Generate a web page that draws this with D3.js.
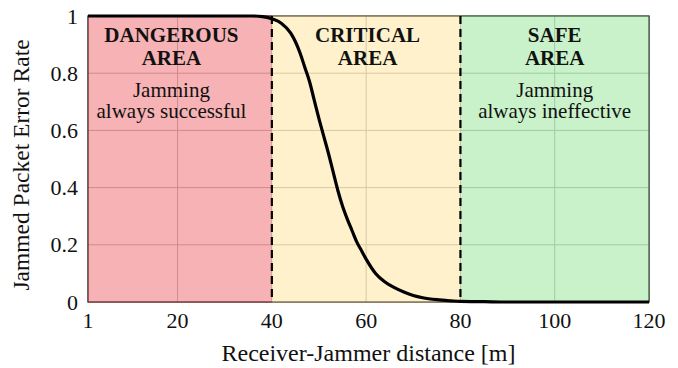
<!DOCTYPE html>
<html><head><meta charset="utf-8">
<script src="https://cdn.jsdelivr.net/npm/d3@7"></script>
<style>
html,body{margin:0;padding:0;background:#fff;}
svg{display:block;}
</style></head>
<body>
<svg id="c" width="678" height="368"></svg>
<script>
// ---- data ----
const distance = [1, 10, 20, 30, 36, 38, 40, 42, 44, 45, 46, 47, 48, 49, 50, 51, 52, 53, 54, 55, 56, 57, 58, 59, 60, 62, 64, 66, 68, 70, 72, 75, 78, 80, 85, 90, 100, 110, 120];
const per      = [1, 1, 1, 1, 1, 0.998, 0.99, 0.975, 0.94, 0.91, 0.87, 0.82, 0.77, 0.705, 0.64, 0.58, 0.52, 0.455, 0.39, 0.335, 0.29, 0.25, 0.21, 0.18, 0.15, 0.10, 0.07, 0.05, 0.035, 0.023, 0.015, 0.008, 0.004, 0.002, 0.001, 0, 0, 0, 0];
const xTicks = [1, 20, 40, 60, 80, 100, 120];
const yTicks = [0, 0.2, 0.4, 0.6, 0.8, 1];
const regionBounds = [[1, 40], [40, 80], [80, 120]];
const regionTitles = [["DANGEROUS", "AREA"], ["CRITICAL", "AREA"], ["SAFE", "AREA"]];
const regionNotes = [["Jamming", "always successful"], [], ["Jamming", "always ineffective"]];
const regionTextX = [18.7, 60.3, 100];
const regionColors = ["rgb(232,62,67)", "rgb(255,220,128)", "rgb(120,222,122)"];
const thresholds = [40, 80];

const FONT = '"Liberation Serif"';
const svg = d3.select("#c");
const L = 88, R = 649, T = 16, B = 302;
const x = d3.scaleLinear().domain([1, 120]).range([L, R]);
const y = d3.scaleLinear().domain([0, 1]).range([B, T]);

// grid (under translucent fills)
svg.append("g").selectAll("line").data(xTicks.slice(1, -1)).join("line")
  .attr("x1", d => x(d)).attr("x2", d => x(d)).attr("y1", T).attr("y2", B)
  .attr("stroke", "#bdbdbd").attr("stroke-width", 1);
svg.append("g").selectAll("line").data(yTicks.slice(1, -1)).join("line")
  .attr("y1", d => y(d)).attr("y2", d => y(d)).attr("x1", L).attr("x2", R)
  .attr("stroke", "#bdbdbd").attr("stroke-width", 1);

// frame
svg.append("rect").attr("x", L).attr("y", T).attr("width", R - L).attr("height", B - T)
  .attr("fill", "none").attr("stroke", "#000").attr("stroke-width", 1.2);

// region fills
svg.append("g").selectAll("rect").data(regionBounds).join("rect")
  .attr("x", d => x(d[0])).attr("width", d => x(d[1]) - x(d[0]))
  .attr("y", T - 0.6).attr("height", B - T + 1.2)
  .attr("fill", (d, i) => regionColors[i]).attr("fill-opacity", 0.4);

// threshold dashed lines
svg.append("g").selectAll("line").data(thresholds).join("line")
  .attr("x1", d => x(d)).attr("x2", d => x(d)).attr("y1", T).attr("y2", B)
  .attr("stroke", "#000").attr("stroke-width", 2.2).attr("stroke-dasharray", "8,5");

// curve
const line = d3.line().x((d, i) => x(distance[i])).y((d, i) => y(per[i])).curve(d3.curveMonotoneX);
svg.append("path").datum(per).attr("d", line)
  .attr("fill", "none").attr("stroke", "#000").attr("stroke-width", 3.2).attr("stroke-linejoin", "round");

function txt(xp, yp, s, size, bold) {
  return svg.append("text").attr("x", xp).attr("y", yp).attr("text-anchor", "middle")
    .style("font-family", FONT).style("font-size", size + "px")
    .style("font-weight", bold ? "bold" : "normal").attr("fill", "#111").text(s);
}

// region texts
regionTitles.forEach((lines, i) => {
  lines.forEach((t, j) => txt(x(regionTextX[i]), 42 + j * 22.5, t, 21, true));
});
regionNotes.forEach((lines, i) => {
  lines.forEach((t, j) => txt(x(regionTextX[i]), 96.5 + j * 21.5, t, 21, false));
});

// axes tick labels
xTicks.forEach(d => txt(x(d), 328, String(d), 22, false));
yTicks.forEach(d => txt(0, 0, String(d), 22, false).attr("text-anchor", "end")
  .attr("x", 78).attr("y", y(d) + 7.5));

// axis titles
txt((L + R) / 2, 361, "Receiver-Jammer distance [m]", 24, false);
txt(0, 0, "Jammed Packet Error Rate", 23.5, false).attr("x", null).attr("y", null)
  .attr("transform", `translate(29,${(T + B) / 2 + 6}) rotate(-90)`);
</script>
</body></html>
